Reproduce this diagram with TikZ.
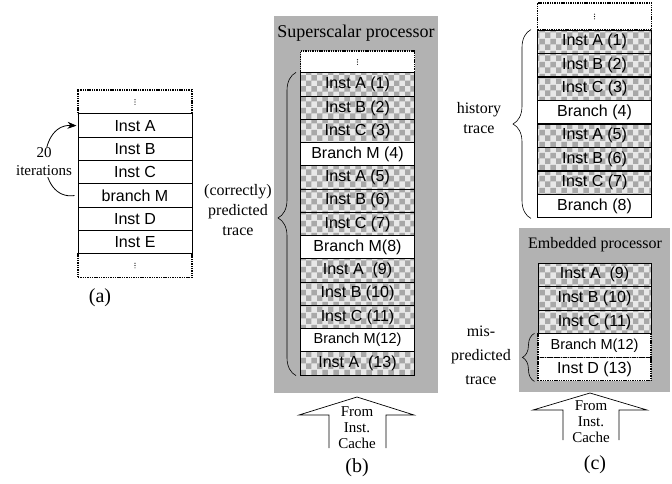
\documentclass[tikz,border=0pt]{standalone}
\usepackage{fontspec}
\setmainfont{Liberation Serif}
\setsansfont{Liberation Sans}
\usetikzlibrary{patterns,arrows.meta,decorations.pathreplacing}
\definecolor{panegray}{gray}{0.70}
\tikzset{
  cell/.style={draw,line width=1pt,minimum width=114pt,minimum height=23.4pt,inner sep=0pt,
    font=\sffamily\fontsize{16}{18}\selectfont},
  chk/.style={preaction={fill=gray!18},pattern=checkerboard,pattern color=gray!68},
  wht/.style={fill=white},
  whtsm/.style={fill=white,font=\sffamily\fontsize{14.5}{16}\selectfont},
  dotbox/.style={cell,fill=white,line width=1.1pt,dash pattern=on 1.4pt off 0.9pt},
  lbl/.style={align=center,font=\fontsize{16}{20}\selectfont},
  brc/.style={decorate,decoration={brace,amplitude=#1},line width=0.6pt},
  bigarrow/.style={draw,line width=0.7pt,fill=white}
}
% three small dots in an elided row
\newcommand{\moredots}[1]{\foreach \k in {-1,0,1}\fill (#1.center) ++(0,2.3*\k) circle (0.55pt);}
\begin{document}
\begin{tikzpicture}[x=1pt,y=-1pt]
\useasboundingbox (0,0) rectangle (672,483);

%(a) loop in the program
\node[dotbox,minimum height=24pt] (a0) at (135,102) {};
\node[dotbox] (a7) at (135,265.5) {};
\moredots{a0}\moredots{a7}
\foreach \t [count=\i] in {Inst A,Inst B,Inst C,branch M,Inst D,Inst E}
  \node[cell,fill=white] (a\i) at (135,{102.35+23.3*\i}) {\t};
\draw[line width=0.8pt,-{Stealth[length=9pt,width=7pt]}] ([xshift=-3pt]a4.west)
  .. controls (36,201) and (36,124) .. ([xshift=-1pt]a1.west);
\node[lbl,fill=white,inner sep=1pt,font=\fontsize{15}{18}\selectfont] (iter) at (44,162) {20\\iterations};
\node[lbl,font=\fontsize{20}{22}\selectfont] (capa) at (100,298) {(a)};

%(b) superscalar
\fill[panegray] (274,16) rectangle (438,393);
\node[lbl,font=\fontsize{18}{20}\selectfont] (ttlb) at (356,33) {Superscalar processor};
\node[dotbox,minimum height=22pt] (b0) at (357.5,62) {};
\moredots{b0}
\foreach \t/\s [count=\i] in {Inst A (1)/chk,Inst B (2)/chk,Inst C (3)/chk,Branch M (4)/wht,
    Inst A (5)/chk,Inst B (6)/chk,Inst C (7)/chk,Branch M(8)/wht,
    Inst A \ (9)/chk,Inst B (10)/chk,Inst C (11)/chk,Branch M(12)/whtsm,Inst A \ (13)/chk}
  \node[cell,\s] (b\i) at (357.5,{61.4+23.23*\i}) {\t};
\draw[brc=18pt,decoration={aspect=0.52}] ([xshift=-4pt]b13.south west) -- ([xshift=-4pt]b1.north west);
\node[lbl] (trb) at (238,210) {(correctly)\\predicted\\trace};
\draw[bigarrow] (329,448) -- (329,415) -- (299,415) -- (357,397) -- (414,415) -- (386,415) -- (386,448);
\node[lbl,font=\fontsize{15}{16}\selectfont] (srcb) at (357,428) {From\\Inst.\\Cache};
\node[lbl,font=\fontsize{20}{22}\selectfont] (capb) at (357,468) {(b)};

%(c) history trace
\node[dotbox,minimum height=27pt] (c0) at (594.5,16.5) {};
\moredots{c0}
\foreach \t/\s [count=\i] in {Inst A (1)/chk,Inst B (2)/chk,Inst C (3)/chk,Branch (4)/wht,
    Inst A (5)/chk,Inst B (6)/chk,Inst C (7)/chk,Branch (8)/wht}
  \node[cell,\s] (c\i) at (594.5,{18.25+23.5*\i}) {\t};
\draw[brc=18pt] ([xshift=-6pt]c8.south west) -- ([xshift=-6pt]c1.north west);
\node[lbl] (trc) at (479,118) {history\\trace};

%(c) embedded
\fill[panegray] (519,228) rectangle (670,392);
\node[lbl] (ttlc) at (595,245) {Embedded processor};
\foreach \t/\s [count=\i] in {Inst A \ (9)/chk,Inst B (10)/chk,Inst C (11)/chk}
  \node[cell,\s,minimum width=113pt] (d\i) at (594.5,{251.2+23.6*\i}) {\t};
\node[dotbox,minimum width=113pt,font=\sffamily\fontsize{14.5}{16}\selectfont] (d4) at (594.5,345.6) {Branch M(12)};
\node[dotbox,minimum width=113pt] (d5) at (594.5,369.2) {Inst D (13)};
\draw[brc=12pt] ([xshift=-3pt]d5.south west) -- ([xshift=-3pt]d4.north west);
\node[lbl,font=\fontsize{16}{24}\selectfont] (trd) at (481,355) {mis-\\predicted\\trace};
\draw[bigarrow] (563,440) -- (563,410) -- (533,410) -- (590,393) -- (647,410) -- (619,410) -- (619,440);
\node[lbl,font=\fontsize{15}{16}\selectfont] (srcc) at (591,422) {From\\Inst.\\Cache};
\node[lbl,font=\fontsize{20}{22}\selectfont] (capc) at (595,465) {(c)};
\end{tikzpicture}
\end{document}
